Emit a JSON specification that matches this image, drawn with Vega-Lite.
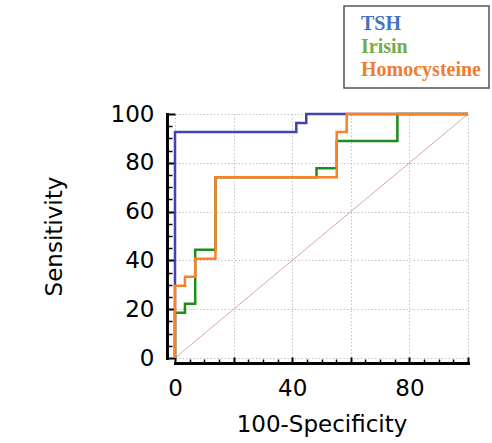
{
  "$schema": "https://vega.github.io/schema/vega-lite/v6.json",
  "autosize": "none",
  "width": 293,
  "height": 244,
  "padding": {"left": 175, "top": 114, "right": 24, "bottom": 85},
  "background": "white",
  "config": {"view": {"stroke": null}, "font": "DejaVu Sans"},
  "resolve": {"axis": {"x": "independent", "y": "independent"}},
  "layer": [
    {
      "data": {"values": [{}]},
      "mark": {"type": "rule", "color": "#d9a7a7", "strokeWidth": 1},
      "encoding": {
        "x": {
          "datum": 0, "type": "quantitative",
          "scale": {"domain": [0, 100], "nice": false},
          "axis": {"orient": "bottom", "title": null, "values": [5, 10, 15, 25, 30, 35, 45, 50, 55, 65, 70, 75, 85, 90, 95],
            "labels": false, "domain": false, "grid": false, "offset": 5, "tickSize": -4, "tickWidth": 1.5, "tickColor": "black"}
        },
        "x2": {"datum": 100},
        "y": {
          "datum": 0, "type": "quantitative",
          "scale": {"domain": [0, 100], "nice": false},
          "axis": {"orient": "left", "title": null, "values": [5, 10, 15, 25, 30, 35, 45, 50, 55, 65, 70, 75, 85, 90, 95],
            "labels": false, "domain": false, "grid": false, "offset": 8, "tickSize": -5, "tickWidth": 1.5, "tickColor": "black"}
        },
        "y2": {"datum": 100}
      }
    },
    {
      "data": {
        "values": [
          {"fpr": 0, "tpr": 0, "marker": "TSH"},
          {"fpr": 0, "tpr": 92.6, "marker": "TSH"},
          {"fpr": 41.4, "tpr": 96.3, "marker": "TSH"},
          {"fpr": 44.8, "tpr": 100, "marker": "TSH"},
          {"fpr": 100, "tpr": 100, "marker": "TSH"},
          {"fpr": 0, "tpr": 0, "marker": "Irisin"},
          {"fpr": 0, "tpr": 18.5, "marker": "Irisin"},
          {"fpr": 3.4, "tpr": 22.2, "marker": "Irisin"},
          {"fpr": 6.9, "tpr": 44.4, "marker": "Irisin"},
          {"fpr": 13.8, "tpr": 74.1, "marker": "Irisin"},
          {"fpr": 48.3, "tpr": 77.8, "marker": "Irisin"},
          {"fpr": 55.2, "tpr": 88.9, "marker": "Irisin"},
          {"fpr": 75.9, "tpr": 100, "marker": "Irisin"},
          {"fpr": 100, "tpr": 100, "marker": "Irisin"},
          {"fpr": 0, "tpr": 0, "marker": "Homocysteine"},
          {"fpr": 0, "tpr": 29.6, "marker": "Homocysteine"},
          {"fpr": 3.4, "tpr": 33.3, "marker": "Homocysteine"},
          {"fpr": 6.9, "tpr": 40.7, "marker": "Homocysteine"},
          {"fpr": 13.8, "tpr": 74.1, "marker": "Homocysteine"},
          {"fpr": 55.2, "tpr": 92.6, "marker": "Homocysteine"},
          {"fpr": 58.6, "tpr": 100, "marker": "Homocysteine"},
          {"fpr": 100, "tpr": 100, "marker": "Homocysteine"}
        ]
      },
      "mark": {"type": "line", "interpolate": "step-after", "strokeWidth": 2.5, "clip": false},
      "encoding": {
        "x": {
          "field": "fpr", "type": "quantitative",
          "scale": {"domain": [0, 100], "nice": false},
          "axis": {
            "orient": "bottom", "title": "100-Specificity", "values": [0, 20, 40, 60, 80, 100],
            "labelExpr": "datum.value % 40 === 0 ? datum.label : ''",
            "offset": 5, "domainColor": "black", "domainWidth": 3, "domainCap": "square",
            "tickColor": "black", "tickWidth": 2, "tickSize": -6,
            "labelFontSize": 23, "labelColor": "black", "labelPadding": 20, "labelFlush": false,
            "titleFontSize": 23, "titleFontWeight": "normal", "titleColor": "black", "titlePadding": 13,
            "grid": true, "gridColor": "#c4c4c4", "gridDash": [1.5, 2], "gridWidth": 1
          }
        },
        "y": {
          "field": "tpr", "type": "quantitative",
          "scale": {"domain": [0, 100], "nice": false},
          "axis": {
            "orient": "left", "title": "Sensitivity", "values": [0, 20, 40, 60, 80, 100],
            "offset": 8, "domainColor": "black", "domainWidth": 3, "domainCap": "square",
            "tickColor": "black", "tickWidth": 2, "tickSize": -8,
            "labelFontSize": 23, "labelColor": "black", "labelPadding": 21, "labelFlush": false,
            "titleFontSize": 23, "titleFontWeight": "normal", "titleColor": "black", "titlePadding": 44,
            "grid": true, "gridColor": "#c4c4c4", "gridDash": [1.5, 2], "gridWidth": 1
          }
        },
        "color": {
          "field": "marker", "type": "nominal",
          "scale": {"domain": ["TSH", "Irisin", "Homocysteine"], "range": ["#4242b3", "#1f8c1f", "#ff7f27"]},
          "legend": {
            "title": null, "orient": "none", "legendX": 169, "legendY": -108, "direction": "vertical",
            "fillColor": "white", "strokeColor": "#555555", "cornerRadius": 0, "padding": 8,
            "symbolType": "circle", "symbolSize": 0, "symbolOpacity": 0, "symbolStrokeWidth": 0, "labelOffset": -11,
            "labelFont": "Liberation Serif", "labelFontSize": 20, "labelFontWeight": "bold", "labelLimit": 300, "rowPadding": 3,
            "encode": {
              "legend": {"update": {"strokeWidth": {"value": 1.5}}},
              "labels": {"update": {"fill": {"signal": "datum.value === 'TSH' ? '#4472c4' : datum.value === 'Irisin' ? '#70ad47' : '#ed7d31'"}}}
            }
          }
        }
      }
    }
  ]
}
